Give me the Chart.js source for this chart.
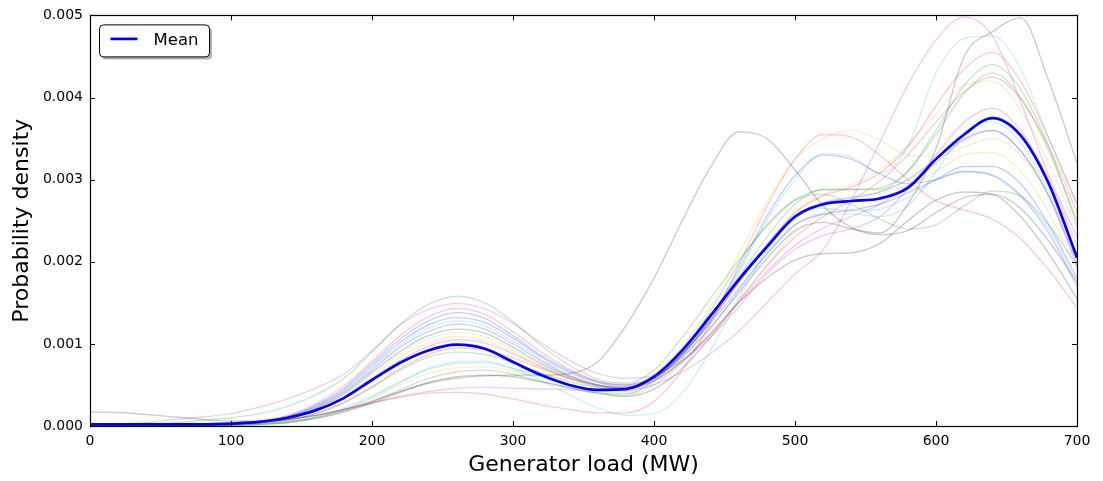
<!DOCTYPE html>
<html>
<head>
<meta charset="utf-8">
<script src="https://cdn.jsdelivr.net/npm/chart.js@4.4.1/dist/chart.umd.min.js"></script>
<style>
  html, body { margin: 0; padding: 0; background: #ffffff; overflow: hidden; }
  #wrap { width: 1103px; height: 481px; position: relative; }
</style>
</head>
<body>
<div id="wrap"><canvas id="chart" width="1103" height="481"></canvas></div>
<script>
// Generator load grid (MW)
const loadMW = [0, 20, 40, 60, 80, 100, 120, 140, 160, 180, 200, 220, 240, 260, 280, 300, 320, 340,
                360, 380, 400, 420, 440, 460, 480, 500, 520, 540, 560, 580, 600, 620, 640, 660, 680, 700];

// Mean probability density over all runs
const meanDensity = [0.00002, 0.00002, 0.00002, 0.00002, 0.00002, 0.00003, 0.00005, 0.0001, 0.00019, 0.00034, 0.00056, 0.00077, 0.00092, 0.00099, 0.00094, 0.00078, 0.00062, 0.0005, 0.00044, 0.00045, 0.0006, 0.00092, 0.00134, 0.00178, 0.00218, 0.00255, 0.0027, 0.00274, 0.00277, 0.0029, 0.00325, 0.00355, 0.00375, 0.00354, 0.00295, 0.00205];

// Individual run densities
const run01 = [0, 0, 0, 0, 0.00001, 0.00002, 0.000055, 0.00012, 0.00025, 0.00046, 0.00076, 0.00106, 0.00128, 0.00138, 0.00131, 0.0011, 0.00086, 0.00067, 0.00054, 0.0005, 0.0006, 0.00088, 0.00125, 0.00167, 0.00209, 0.00245, 0.00258, 0.00263, 0.0027, 0.00284, 0.003, 0.00316, 0.00316, 0.00295, 0.00245, 0.0018];
const run02 = [0, 0.00001, 0.00002, 0.00004, 0.00007, 0.0001, 0.00015, 0.00024, 0.00038, 0.00058, 0.0009, 0.00124, 0.00148, 0.00158, 0.0015, 0.00127, 0.00098, 0.00074, 0.00057, 0.00052, 0.00068, 0.00108, 0.00155, 0.00202, 0.00243, 0.00275, 0.00288, 0.00288, 0.00288, 0.0031, 0.0036, 0.00415, 0.0044, 0.0041, 0.0034, 0.00245];
const run03 = [0, 0, 0, 0.00001, 0.00002, 0.00003, 0.00006, 0.00013, 0.00027, 0.00049, 0.00079, 0.0011, 0.00133, 0.00143, 0.00136, 0.00115, 0.0009, 0.00069, 0.00055, 0.0005, 0.0006, 0.00088, 0.00128, 0.00174, 0.0022, 0.0026, 0.0028, 0.00291, 0.00308, 0.0034, 0.0039, 0.00435, 0.00455, 0.0042, 0.0035, 0.0027];
const run04 = [0, 0, 0, 0.00001, 0.000015, 0.00002, 0.00005, 0.00011, 0.00023, 0.00042, 0.0007, 0.00099, 0.00119, 0.00128, 0.00122, 0.00103, 0.00081, 0.00062, 0.0005, 0.00045, 0.00055, 0.00082, 0.00128, 0.00186, 0.0025, 0.003, 0.00332, 0.00328, 0.00308, 0.0034, 0.0043, 0.00472, 0.00475, 0.00435, 0.0035, 0.0027];
const run05 = [0.00001, 0.00002, 0.00004, 0.00008, 0.00011, 0.00015, 0.00023, 0.00033, 0.00046, 0.00063, 0.00092, 0.00123, 0.00142, 0.00149, 0.00143, 0.00125, 0.00101, 0.0008, 0.00064, 0.00058, 0.00062, 0.0008, 0.00108, 0.00145, 0.00185, 0.00215, 0.00232, 0.0024, 0.00255, 0.00288, 0.0033, 0.0037, 0.00387, 0.0036, 0.003, 0.0022];
const run06 = [0, 0, 0, 0.000005, 0.00001, 0.00002, 0.000045, 0.0001, 0.0002, 0.00037, 0.00062, 0.00088, 0.00106, 0.00114, 0.00109, 0.00093, 0.00074, 0.00058, 0.00048, 0.00046, 0.0006, 0.00095, 0.00145, 0.00208, 0.00273, 0.00325, 0.0035, 0.0036, 0.00348, 0.0033, 0.00328, 0.0034, 0.0035, 0.0033, 0.0028, 0.0021];
const run07 = [0.00017, 0.000165, 0.00014, 0.00011, 0.00008, 0.00006, 0.00006, 0.00008, 0.00013, 0.0002, 0.0003, 0.00042, 0.00052, 0.00058, 0.00061, 0.00062, 0.00062, 0.00064, 0.00078, 0.00122, 0.0018, 0.0025, 0.00315, 0.00358, 0.0035, 0.00312, 0.00268, 0.00242, 0.00233, 0.00238, 0.0026, 0.00278, 0.00282, 0.00265, 0.00225, 0.00175];
const run08 = [0, 0, 0, 0.000005, 0.00001, 0.00002, 0.00005, 0.00011, 0.00024, 0.00044, 0.00073, 0.00102, 0.00123, 0.00132, 0.00126, 0.00107, 0.00084, 0.00065, 0.00053, 0.00048, 0.00058, 0.00086, 0.00132, 0.0019, 0.00255, 0.00305, 0.0033, 0.00325, 0.00307, 0.00295, 0.003, 0.0031, 0.00305, 0.0028, 0.00235, 0.0017];
const run09 = [0, 0, 0, 0.000005, 0.00001, 0.00001, 0.00002, 0.00005, 0.0001, 0.00018, 0.0003, 0.00044, 0.00058, 0.00066, 0.00068, 0.00063, 0.00054, 0.00046, 0.0004, 0.00039, 0.00055, 0.0009, 0.0014, 0.00198, 0.00245, 0.00275, 0.00282, 0.0027, 0.00252, 0.0024, 0.00245, 0.00268, 0.00286, 0.0028, 0.00245, 0.00195];
const run10 = [0, 0, 0, 0.000005, 0.000015, 0.00002, 0.00004, 0.00008, 0.00013, 0.0002, 0.00028, 0.00035, 0.0004, 0.00041, 0.00039, 0.00033, 0.00026, 0.0002, 0.00016, 0.00016, 0.0003, 0.00068, 0.00125, 0.00195, 0.00267, 0.00325, 0.00355, 0.00352, 0.0033, 0.003, 0.00274, 0.00263, 0.00252, 0.00228, 0.0019, 0.00144];
const run11 = [0, 0, 0, 0, 0.000005, 0.00001, 0.00002, 0.00004, 0.0001, 0.0002, 0.00035, 0.00053, 0.0007, 0.00078, 0.00079, 0.0007, 0.00055, 0.00038, 0.00022, 0.00013, 0.00015, 0.0004, 0.00092, 0.00155, 0.00213, 0.00255, 0.00265, 0.00262, 0.00264, 0.00278, 0.003, 0.0031, 0.00306, 0.00282, 0.0024, 0.00175];
const run12 = [0, 0, 0.000005, 0.00001, 0.00002, 0.00003, 0.00005, 0.00008, 0.00013, 0.0002, 0.00028, 0.00036, 0.00042, 0.00046, 0.00047, 0.00046, 0.00045, 0.00044, 0.00043, 0.00043, 0.0005, 0.00066, 0.00088, 0.00115, 0.0015, 0.00185, 0.00215, 0.00275, 0.00345, 0.00415, 0.0047, 0.00498, 0.00475, 0.00395, 0.00305, 0.0023];
const run13 = [0, 0, 0, 0.000005, 0.00001, 0.00002, 0.00004, 0.00009, 0.00019, 0.00035, 0.00059, 0.00084, 0.00101, 0.00109, 0.00104, 0.0009, 0.00072, 0.00057, 0.00047, 0.00043, 0.00055, 0.00086, 0.00128, 0.00175, 0.0022, 0.0026, 0.00282, 0.00294, 0.00312, 0.00342, 0.0038, 0.00415, 0.0042, 0.00385, 0.0032, 0.0024];
const run14 = [0, 0, 0, 0.000005, 0.00001, 0.00002, 0.00005, 0.0001, 0.00021, 0.00039, 0.00065, 0.00091, 0.0011, 0.00118, 0.00113, 0.00096, 0.00076, 0.0006, 0.0005, 0.00047, 0.00058, 0.00084, 0.0012, 0.00162, 0.00204, 0.00238, 0.00248, 0.0024, 0.00235, 0.0027, 0.00338, 0.0045, 0.0048, 0.00497, 0.0042, 0.0032];
const run15 = [0, 0, 0, 0.000005, 0.00001, 0.00002, 0.000045, 0.0001, 0.00022, 0.00041, 0.00068, 0.00096, 0.00115, 0.00124, 0.00118, 0.001, 0.00079, 0.00061, 0.0005, 0.00046, 0.00058, 0.00087, 0.00128, 0.00175, 0.0022, 0.00255, 0.00272, 0.00278, 0.00285, 0.003, 0.00325, 0.0035, 0.0036, 0.00335, 0.0028, 0.00195];
const run16 = [0, 0, 0, 0.000005, 0.00001, 0.00002, 0.000035, 0.00007, 0.00015, 0.00028, 0.00047, 0.00068, 0.00084, 0.0009, 0.00087, 0.00077, 0.00065, 0.00054, 0.00047, 0.00045, 0.00058, 0.00088, 0.00132, 0.00181, 0.0023, 0.0027, 0.00288, 0.00288, 0.0029, 0.0031, 0.00355, 0.00405, 0.0043, 0.004, 0.00335, 0.0025];
const run17 = [0, 0, 0, 0.000005, 0.00001, 0.00002, 0.000035, 0.00007, 0.00015, 0.00029, 0.00048, 0.0007, 0.00087, 0.00095, 0.00093, 0.00083, 0.0007, 0.00058, 0.00049, 0.00046, 0.00055, 0.00079, 0.00112, 0.00152, 0.00195, 0.0023, 0.00255, 0.00275, 0.00298, 0.0033, 0.0037, 0.00407, 0.00425, 0.00398, 0.0034, 0.0026];
const run18 = [0, 0, 0, 0, 0.000005, 0.00001, 0.00002, 0.00005, 0.00011, 0.00022, 0.00037, 0.00054, 0.00069, 0.00076, 0.00077, 0.0007, 0.0006, 0.00049, 0.00041, 0.00037, 0.0005, 0.00077, 0.00118, 0.00165, 0.0021, 0.00245, 0.00258, 0.00258, 0.00255, 0.00268, 0.0031, 0.00355, 0.0037, 0.00345, 0.00285, 0.0021];
const run19 = [0, 0, 0, 0.000005, 0.00001, 0.00002, 0.00004, 0.00009, 0.00019, 0.00034, 0.00057, 0.0008, 0.00097, 0.00105, 0.00101, 0.00088, 0.00072, 0.00058, 0.00049, 0.00045, 0.00055, 0.00079, 0.00112, 0.0015, 0.00188, 0.0022, 0.00241, 0.00255, 0.0027, 0.00292, 0.0032, 0.00348, 0.0036, 0.00335, 0.0028, 0.002];
const run20 = [0, 0, 0, 0.000005, 0.00001, 0.00001, 0.00002, 0.00005, 0.00011, 0.0002, 0.00034, 0.0005, 0.00064, 0.00071, 0.00072, 0.00067, 0.00058, 0.0005, 0.00043, 0.0004, 0.00052, 0.00078, 0.00112, 0.00152, 0.00195, 0.00235, 0.0026, 0.00274, 0.00284, 0.00292, 0.0031, 0.0033, 0.00333, 0.0031, 0.0026, 0.0019];
const run21 = [0, 0, 0, 0, 0.000005, 0.00001, 0.00002, 0.00004, 0.00009, 0.00017, 0.00028, 0.00041, 0.00053, 0.0006, 0.00062, 0.0006, 0.00054, 0.00047, 0.0004, 0.00036, 0.00045, 0.0007, 0.00108, 0.0015, 0.0018, 0.00202, 0.0021, 0.00211, 0.00222, 0.0025, 0.00275, 0.00285, 0.00282, 0.00255, 0.0021, 0.00155];

const runs = [run01, run02, run03, run04, run05, run06, run07, run08, run09, run10, run11,
              run12, run13, run14, run15, run16, run17, run18, run19, run20, run21];

// Classic colour cycle: b g r c m y k
const colorCycle = ['0,0,255', '0,128,0', '255,0,0', '0,191,191', '191,0,191', '191,191,0', '0,0,0'];

// Axis ticks
const xTickValues = [0, 100, 200, 300, 400, 500, 600, 700];
const yTickValues = [0, 0.001, 0.002, 0.003, 0.004, 0.005];

const FONT = "'DejaVu Sans', 'Bitstream Vera Sans', sans-serif";

function toPoints(values) {
  return values.map((v, i) => ({ x: loadMW[i], y: v }));
}

const datasets = [{
  label: 'Mean',
  data: toPoints(meanDensity),
  borderColor: '#0000ff',
  borderWidth: 2.7,
  pointRadius: 0,
  cubicInterpolationMode: 'monotone',
  order: 0
}];
runs.forEach((vals, i) => {
  datasets.push({
    label: '',
    data: toPoints(vals),
    borderColor: 'rgba(' + colorCycle[i % colorCycle.length] + ',0.2)',
    borderWidth: 1.4,
    pointRadius: 0,
    cubicInterpolationMode: 'monotone',
    order: 1
  });
});

// Frame, inward tick marks and the boxed legend
const framePlugin = {
  id: 'frame',
  afterDatasetsDraw(chart) {
    const ctx = chart.ctx;
    const a = chart.chartArea;
    const xs = chart.scales.x, ys = chart.scales.y;
    ctx.save();
    ctx.strokeStyle = '#000';
    ctx.lineWidth = 1;
    ctx.beginPath();
    xTickValues.forEach(v => {
      const px = Math.round(xs.getPixelForValue(v)) + 0.5;
      ctx.moveTo(px, a.bottom); ctx.lineTo(px, a.bottom - 5);
      ctx.moveTo(px, a.top); ctx.lineTo(px, a.top + 5);
    });
    yTickValues.forEach(v => {
      const py = Math.round(ys.getPixelForValue(v)) + 0.5;
      ctx.moveTo(a.left, py); ctx.lineTo(a.left + 5, py);
      ctx.moveTo(a.right, py); ctx.lineTo(a.right - 5, py);
    });
    ctx.stroke();
    ctx.lineWidth = 1.2;
    ctx.strokeRect(Math.round(a.left) + 0.5, Math.round(a.top) + 0.5,
                   Math.round(a.right - a.left), Math.round(a.bottom - a.top));

    // legend
    const lx = a.left + 9.5, ly = a.top + 9.5, lw = 110, lh = 32, r = 4;
    const rr = (x, y) => { ctx.beginPath(); ctx.roundRect(x, y, lw, lh, r); };
    ctx.fillStyle = 'rgba(0,0,0,0.3)';
    rr(lx + 2.5, ly + 2.5); ctx.fill();
    ctx.fillStyle = '#fff';
    rr(lx, ly); ctx.fill();
    ctx.strokeStyle = '#000'; ctx.lineWidth = 1;
    rr(lx, ly); ctx.stroke();
    ctx.strokeStyle = '#0000ff'; ctx.lineWidth = 2.7;
    ctx.beginPath();
    ctx.moveTo(lx + 11, ly + 14); ctx.lineTo(lx + 38, ly + 14);
    ctx.stroke();
    ctx.fillStyle = '#000';
    ctx.font = '16.5px ' + FONT;
    ctx.textBaseline = 'middle';
    ctx.textAlign = 'left';
    ctx.fillText(datasets[0].label, lx + 54, ly + 16);
    ctx.restore();
  }
};

new Chart(document.getElementById('chart'), {
  type: 'line',
  data: { datasets },
  options: {
    responsive: false,
    animation: false,
    devicePixelRatio: 1,
    layout: { padding: { top: 15, right: 26, bottom: 0, left: 0 } },
    plugins: { legend: { display: false }, tooltip: { enabled: false } },
    scales: {
      x: {
        type: 'linear',
        min: 0, max: 700,
        afterBuildTicks: s => { s.ticks = xTickValues.map(v => ({ value: v })); },
        afterFit: s => { s.height = 55; },
        grid: { display: false, drawTicks: false },
        border: { display: false },
        ticks: { font: { family: FONT, size: 14 }, color: '#000', padding: 7, maxRotation: 0, autoSkip: false },
        title: { display: true, text: 'Generator load (MW)', color: '#000',
                 font: { family: FONT, size: 22 }, padding: { top: 0, bottom: 3 } }
      },
      y: {
        type: 'linear',
        min: 0, max: 0.005,
        afterBuildTicks: s => { s.ticks = yTickValues.map(v => ({ value: v })); },
        afterFit: s => { s.width = 90; },
        grid: { display: false, drawTicks: false },
        border: { display: false },
        ticks: { font: { family: FONT, size: 14 }, color: '#000', padding: 7,
                 callback: v => Number(v).toFixed(3) },
        title: { display: true, text: 'Probability density', color: '#000',
                 font: { family: FONT, size: 22 }, padding: { top: 9, bottom: 0 } }
      }
    }
  },
  plugins: [framePlugin]
});
</script>
</body>
</html>
